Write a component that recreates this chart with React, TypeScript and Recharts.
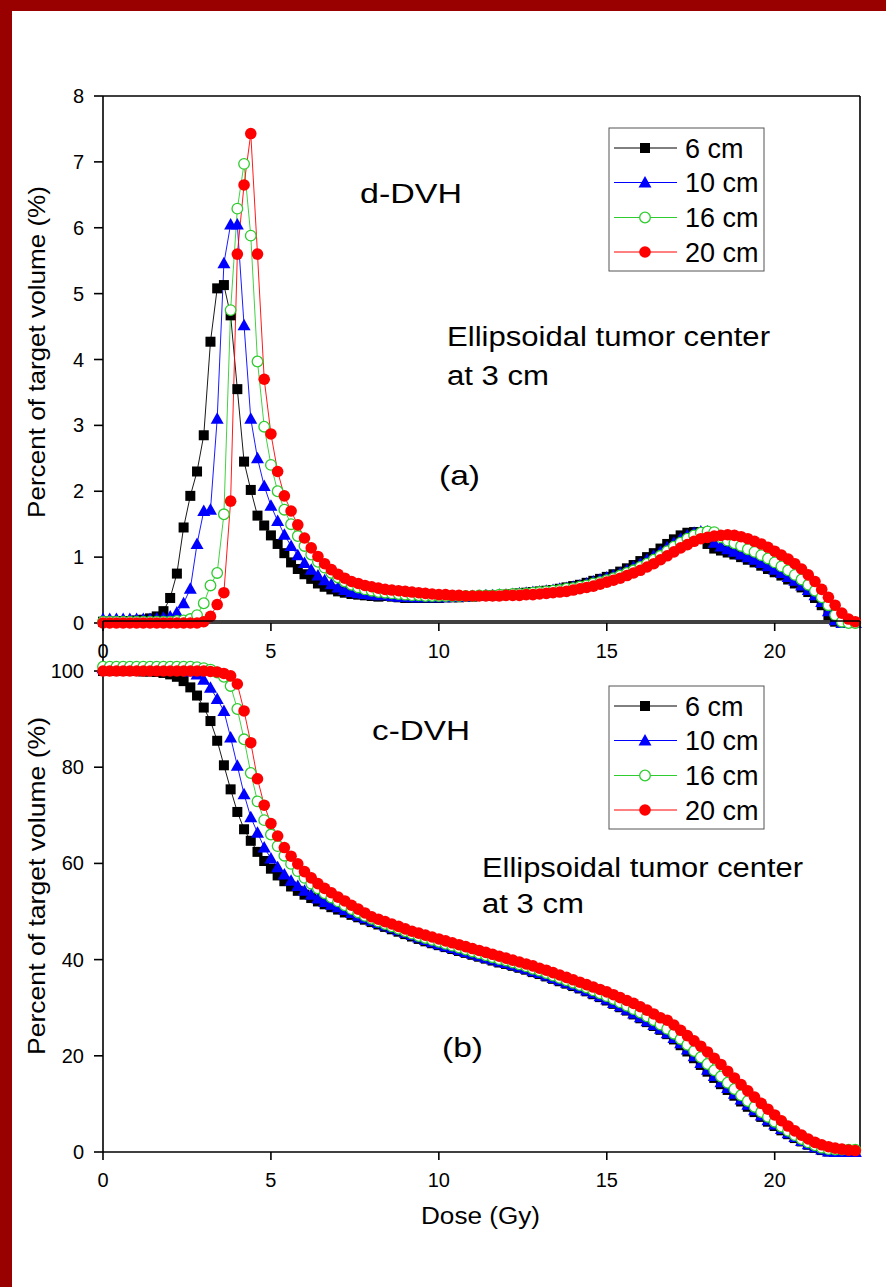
import React from "react";
import { LineChart, Line, XAxis, YAxis } from "recharts";

const RED_FRAME = "#990000";
const FONT = "'Liberation Sans', Arial, sans-serif";

// dose bins (Gy)
const DOSE = [
  0, 0.2, 0.4, 0.6, 0.8, 1, 1.2, 1.4, 1.6, 1.8,
  2, 2.2, 2.4, 2.6, 2.8, 3, 3.2, 3.4, 3.6, 3.8,
  4, 4.2, 4.4, 4.6, 4.8, 5, 5.2, 5.4, 5.6, 5.8,
  6, 6.2, 6.4, 6.6, 6.8, 7, 7.2, 7.4, 7.6, 7.8,
  8, 8.2, 8.4, 8.6, 8.8, 9, 9.2, 9.4, 9.6, 9.8,
  10, 10.2, 10.4, 10.6, 10.8, 11, 11.2, 11.4, 11.6, 11.8,
  12, 12.2, 12.4, 12.6, 12.8, 13, 13.2, 13.4, 13.6, 13.8,
  14, 14.2, 14.4, 14.6, 14.8, 15, 15.2, 15.4, 15.6, 15.8,
  16, 16.2, 16.4, 16.6, 16.8, 17, 17.2, 17.4, 17.6, 17.8,
  18, 18.2, 18.4, 18.6, 18.8, 19, 19.2, 19.4, 19.6, 19.8,
  20, 20.2, 20.4, 20.6, 20.8, 21, 21.2, 21.4, 21.6, 21.8,
  22, 22.2, 22.4,
];

// d-DVH (%)
const D_6CM = [
  0.02, 0.02, 0.02, 0.03, 0.03, 0.04, 0.05, 0.07, 0.1, 0.18,
  0.38, 0.75, 1.45, 1.93, 2.3, 2.85, 4.27, 5.08, 5.13, 4.67,
  3.55, 2.45, 2.02, 1.63, 1.48, 1.33, 1.2, 1.06, 0.92, 0.82,
  0.74, 0.67, 0.6, 0.55, 0.51, 0.48, 0.46, 0.44, 0.43, 0.42,
  0.41, 0.4, 0.41, 0.4, 0.39, 0.38, 0.38, 0.38, 0.38, 0.38,
  0.38, 0.39, 0.39, 0.39, 0.4, 0.4, 0.41, 0.41, 0.42, 0.42,
  0.43, 0.44, 0.45, 0.46, 0.47, 0.48, 0.49, 0.5, 0.52, 0.54,
  0.56, 0.58, 0.61, 0.64, 0.67, 0.7, 0.74, 0.78, 0.83, 0.88,
  0.94, 1.0, 1.06, 1.13, 1.2, 1.27, 1.33, 1.37, 1.38, 1.38,
  1.2, 1.13, 1.1, 1.07, 1.04, 1.0, 0.96, 0.92, 0.87, 0.82,
  0.77, 0.72, 0.66, 0.6, 0.54, 0.47, 0.38, 0.27, 0.12, 0.02,
  0, 0, 0,
];
const D_10CM = [
  0.06, 0.06, 0.06, 0.06, 0.06, 0.06, 0.06, 0.06, 0.07, 0.08,
  0.1, 0.16, 0.3, 0.52, 1.2, 1.7, 1.72, 3.1, 5.46, 6.05,
  6.05, 4.52, 3.1, 2.5, 2.08, 1.78, 1.55, 1.34, 1.17, 1.03,
  0.91, 0.81, 0.72, 0.65, 0.59, 0.54, 0.5, 0.47, 0.45, 0.44,
  0.43, 0.42, 0.43, 0.41, 0.4, 0.4, 0.39, 0.39, 0.39, 0.39,
  0.39, 0.39, 0.4, 0.4, 0.4, 0.41, 0.41, 0.42, 0.42, 0.43,
  0.43, 0.44, 0.45, 0.46, 0.47, 0.48, 0.49, 0.5, 0.52, 0.53,
  0.55, 0.57, 0.6, 0.63, 0.66, 0.69, 0.72, 0.76, 0.8, 0.85,
  0.9, 0.96, 1.02, 1.08, 1.15, 1.22, 1.28, 1.33, 1.37, 1.39,
  1.39, 1.22, 1.16, 1.12, 1.08, 1.04, 1.0, 0.96, 0.91, 0.86,
  0.81, 0.76, 0.7, 0.64, 0.57, 0.5, 0.42, 0.32, 0.18, 0.04,
  0, 0, 0,
];
const D_16CM = [
  0.02, 0.02, 0.02, 0.02, 0.02, 0.02, 0.02, 0.02, 0.02, 0.02,
  0.02, 0.03, 0.04, 0.06, 0.12, 0.3, 0.57, 0.76, 1.65, 4.75,
  6.29, 6.97, 5.88, 3.97, 2.98, 2.4, 2.0, 1.72, 1.5, 1.32,
  1.17, 1.04, 0.93, 0.84, 0.76, 0.69, 0.63, 0.58, 0.54, 0.51,
  0.49, 0.47, 0.46, 0.45, 0.44, 0.43, 0.42, 0.42, 0.41, 0.41,
  0.41, 0.41, 0.41, 0.41, 0.41, 0.41, 0.42, 0.42, 0.42, 0.43,
  0.43, 0.44, 0.44, 0.45, 0.46, 0.47, 0.48, 0.49, 0.5, 0.52,
  0.53, 0.55, 0.57, 0.6, 0.62, 0.65, 0.68, 0.72, 0.76, 0.8,
  0.85, 0.9, 0.96, 1.02, 1.09, 1.16, 1.22, 1.28, 1.33, 1.37,
  1.39, 1.38, 1.3, 1.25, 1.21, 1.17, 1.12, 1.08, 1.03, 0.98,
  0.92, 0.86, 0.8, 0.73, 0.66, 0.58, 0.49, 0.39, 0.27, 0.12,
  0.02, 0, 0,
];
const D_20CM = [
  0, 0, 0, 0, 0, 0, 0, 0, 0, 0,
  0, 0, 0, 0, 0, 0.02, 0.1, 0.28, 0.46, 1.85,
  5.6, 6.65, 7.43, 5.6, 3.7, 2.87, 2.3, 1.93, 1.7, 1.49,
  1.29, 1.14, 1.01, 0.9, 0.81, 0.74, 0.68, 0.63, 0.6, 0.57,
  0.55, 0.53, 0.51, 0.5, 0.49, 0.48, 0.47, 0.46, 0.45, 0.44,
  0.43, 0.43, 0.42, 0.42, 0.41, 0.41, 0.41, 0.41, 0.41, 0.41,
  0.42, 0.42, 0.42, 0.43, 0.43, 0.44, 0.45, 0.46, 0.47, 0.48,
  0.5, 0.52, 0.54, 0.56, 0.59, 0.62, 0.65, 0.68, 0.72, 0.76,
  0.8, 0.85, 0.9, 0.96, 1.02, 1.08, 1.14, 1.19, 1.24, 1.28,
  1.3, 1.32, 1.33, 1.34, 1.33, 1.31, 1.28, 1.24, 1.2, 1.15,
  1.09, 1.03, 0.97, 0.9, 0.82, 0.73, 0.63, 0.51, 0.39, 0.27,
  0.15, 0.06, 0.02,
];

// c-DVH (%)
const C_6CM = [
  100, 100, 100, 100, 100, 100, 99.9, 99.9, 99.8, 99.6,
  99.3, 98.8, 97.9, 96.6, 94.9, 92.4, 89.6, 85.5, 80.4, 75.4,
  70.7, 67.1, 64.7, 62.4, 60.5, 58.9, 57.5, 56.3, 55.2, 54.3,
  53.5, 52.8, 52.1, 51.5, 50.9, 50.4, 49.8, 49.3, 48.8, 48.3,
  47.8, 47.3, 46.8, 46.3, 45.8, 45.3, 44.8, 44.3, 43.8, 43.4,
  43.0, 42.6, 42.2, 41.8, 41.4, 41.0, 40.6, 40.2, 39.8, 39.4,
  39.1, 38.7, 38.3, 37.9, 37.4, 37.0, 36.5, 36.0, 35.5, 35.0,
  34.5, 34.0, 33.4, 32.8, 32.2, 31.5, 30.8, 30.1, 29.4, 28.6,
  27.8, 27.0, 26.2, 25.4, 24.5, 23.4, 22.2, 20.9, 19.5, 18.1,
  16.7, 15.4, 14.1, 12.9, 11.7, 10.5, 9.4, 8.3, 7.3, 6.3,
  5.4, 4.5, 3.7, 2.9, 2.2, 1.5, 0.9, 0.4, 0.1, 0,
  0, 0, 0,
];
const C_10CM = [
  100.6, 100.6, 100.6, 100.6, 100.6, 100.6, 100.6, 100.6, 100.6, 100.6,
  100.5, 100.4, 100.2, 99.9, 99.3, 98.2, 96.5, 94.2, 91.7, 86.2,
  80.3, 74.4, 69.6, 66.4, 63.3, 61.0, 59.2, 57.7, 56.4, 55.3,
  54.3, 53.5, 52.7, 52.0, 51.4, 50.9, 50.3, 49.7, 49.1, 48.6,
  48.1, 47.6, 47.1, 46.6, 46.1, 45.6, 45.1, 44.6, 44.1, 43.6,
  43.2, 42.8, 42.4, 42.0, 41.6, 41.2, 40.8, 40.4, 40.0, 39.6,
  39.3, 38.9, 38.5, 38.1, 37.6, 37.2, 36.7, 36.2, 35.7, 35.2,
  34.7, 34.2, 33.6, 33.0, 32.4, 31.7, 31.0, 30.3, 29.6, 28.8,
  28.0, 27.2, 26.4, 25.6, 24.7, 23.7, 22.6, 21.3, 19.9, 18.5,
  17.1, 15.8, 14.5, 13.3, 12.1, 10.9, 9.8, 8.7, 7.6, 6.6,
  5.7, 4.8, 3.9, 3.1, 2.3, 1.6, 1.0, 0.5, 0.1, 0,
  0, 0, 0,
];
const C_16CM = [
  100.9, 100.9, 100.9, 100.9, 100.9, 100.9, 100.9, 100.9, 100.9, 100.9,
  100.9, 100.9, 100.9, 100.9, 100.8, 100.6, 100.3, 99.7, 98.8, 96.9,
  92.1, 85.8, 78.8, 72.9, 69.0, 66.0, 63.6, 61.6, 59.9, 58.4,
  57.0, 55.8, 54.8, 53.8, 52.9, 52.1, 51.3, 50.5, 49.8, 49.1,
  48.5, 47.9, 47.4, 46.9, 46.4, 45.9, 45.4, 44.9, 44.5, 44.1,
  43.7, 43.3, 42.9, 42.5, 42.1, 41.7, 41.3, 40.9, 40.5, 40.1,
  39.8, 39.4, 39.0, 38.6, 38.1, 37.7, 37.2, 36.7, 36.2, 35.7,
  35.2, 34.7, 34.2, 33.6, 33.0, 32.4, 31.8, 31.1, 30.4, 29.7,
  29.0, 28.2, 27.4, 26.5, 25.6, 24.6, 23.5, 22.3, 21.0, 19.7,
  18.3, 17.0, 15.7, 14.4, 13.1, 11.8, 10.6, 9.4, 8.3, 7.3,
  6.3, 5.3, 4.4, 3.5, 2.7, 2.0, 1.4, 0.9, 0.6, 0.5,
  0.5, 0.5, 0.5,
];
const C_20CM = [
  100, 100, 100, 100, 100, 100, 100, 100, 100, 100,
  100, 100, 100, 100, 100, 100, 99.9, 99.8, 99.5, 99.0,
  97.3, 91.7, 85.1, 77.6, 72.1, 68.3, 65.7, 63.3, 61.5, 59.9,
  58.3, 57.0, 55.8, 54.8, 53.9, 53.0, 52.2, 51.3, 50.5, 49.7,
  48.9, 48.4, 47.9, 47.4, 46.9, 46.4, 45.9, 45.5, 45.1, 44.7,
  44.3, 43.9, 43.5, 43.1, 42.7, 42.3, 41.9, 41.5, 41.1, 40.7,
  40.3, 39.9, 39.5, 39.1, 38.7, 38.2, 37.8, 37.3, 36.8, 36.3,
  35.8, 35.3, 34.8, 34.3, 33.8, 33.3, 32.7, 32.1, 31.5, 30.9,
  30.2, 29.5, 28.7, 27.9, 27.4, 26.4, 25.3, 24.2, 23.1, 22.0,
  20.8, 19.5, 18.2, 16.8, 15.4, 14.0, 12.7, 11.4, 10.1, 8.9,
  7.7, 6.5, 5.4, 4.4, 3.5, 2.7, 2.0, 1.5, 1.1, 0.8,
  0.6, 0.4, 0.3,
];

const SERIES_NAMES = ["6 cm", "10 cm", "16 cm", "20 cm"];

const X_TICKS = [0, 5, 10, 15, 20];
const X_MINOR = [2.5, 7.5, 12.5, 17.5];
const D_TICKS = [0, 1, 2, 3, 4, 5, 6, 7, 8];
const D_MINOR = [0.5, 1.5, 2.5, 3.5, 4.5, 5.5, 6.5, 7.5];
const C_TICKS = [0, 20, 40, 60, 80, 100];
const C_MINOR = [10, 30, 50, 70, 90, 110];

const dData = DOSE.map((dose, i) => ({ dose, s6: D_6CM[i], s10: D_10CM[i], s16: D_16CM[i], s20: D_20CM[i] }));
const cData = DOSE.map((dose, i) => ({ dose, s6: C_6CM[i], s10: C_10CM[i], s16: C_16CM[i], s20: C_20CM[i] }));

const BLUE = "#0000ff";
const GREEN = "#2ecc2e";
const REDC = "#ff0000";

function Marker({ kind, cx, cy }: { kind: string; cx: number; cy: number }) {
  if (kind === "square") return <rect x={cx - 5} y={cy - 5} width={10} height={10} fill="#000" />;
  if (kind === "triangle")
    return <polygon points={`${cx},${cy - 6.5} ${cx - 6.5},${cy + 5} ${cx + 6.5},${cy + 5}`} fill={BLUE} />;
  if (kind === "open") return <circle cx={cx} cy={cy} r={5.3} fill="#fff" stroke={GREEN} strokeWidth={1.3} />;
  return <circle cx={cx} cy={cy} r={5.8} fill={REDC} />;
}

const SERIES = [
  { key: "s6", color: "#000", kind: "square" },
  { key: "s10", color: BLUE, kind: "triangle" },
  { key: "s16", color: GREEN, kind: "open" },
  { key: "s20", color: REDC, kind: "circle" },
];

const makeDot = (kind: string) => (p: any) => {
  const k = `${kind}-${p.index}`;
  if (p.cx == null || p.cy == null) return <g key={k} />;
  return (
    <g key={k}>
      <Marker kind={kind} cx={p.cx} cy={p.cy} />
    </g>
  );
};

const axisStroke = { stroke: "#000", strokeWidth: 1.6 };
const X_DOMAIN: [number, number] = [0, 22.54];

const XTick = (p: any) => (
  <text x={p.x} y={p.y} dy={14.5} textAnchor="middle" fontSize={20} fontFamily={FONT} fill="#000">
    {p.payload.value}
  </text>
);
const YTick = (p: any) => (
  <text x={p.x} y={p.y} dy={7} textAnchor="end" fontSize={20} fontFamily={FONT} fill="#000">
    {p.payload.value}
  </text>
);

// plot box: x 103..858 ; the axes each take 1px of room on their side
function Panel({
  data,
  height,
  plotTop,
  plotBottom,
  yDomain,
  yTicks,
  yMinor,
}: {
  data: any[];
  height: number;
  plotTop: number;
  plotBottom: number;
  yDomain: [number, number];
  yTicks: number[];
  yMinor: number[];
}) {
  return (
    <LineChart
      width={886}
      height={height}
      data={data}
      margin={{ top: plotTop - 2, right: 886 - 858 - 2, left: 103 - 2, bottom: height - plotBottom - 2 }}
    >
      <XAxis xAxisId="x" type="number" dataKey="dose" domain={X_DOMAIN} ticks={X_TICKS} interval={0} height={1}
        tickSize={8} tickMargin={12} tick={XTick} axisLine={axisStroke} tickLine={axisStroke} />
      <XAxis xAxisId="xm" type="number" dataKey="dose" domain={X_DOMAIN} allowDataOverflow ticks={X_MINOR} interval={0}
        height={1} tickSize={5} tick={false} axisLine={false} tickLine={axisStroke} />
      <XAxis xAxisId="xt" orientation="top" mirror type="number" dataKey="dose" domain={X_DOMAIN} allowDataOverflow
        ticks={X_TICKS} interval={0} height={1} tickSize={9} tick={false} axisLine={axisStroke} tickLine={axisStroke} />
      <XAxis xAxisId="xtm" orientation="top" mirror type="number" dataKey="dose" domain={X_DOMAIN} allowDataOverflow
        ticks={X_MINOR} interval={0} height={1} tickSize={5} tick={false} axisLine={false} tickLine={axisStroke} />
      <YAxis yAxisId="y" type="number" domain={yDomain} ticks={yTicks} interval={0} width={1}
        tickSize={9} tickMargin={10} tick={YTick} axisLine={axisStroke} tickLine={axisStroke} />
      <YAxis yAxisId="ym" type="number" domain={yDomain} allowDataOverflow ticks={yMinor} interval={0} width={1}
        tickSize={5} tick={false} axisLine={false} tickLine={axisStroke} />
      <YAxis yAxisId="yr" orientation="right" mirror type="number" domain={yDomain} allowDataOverflow ticks={yTicks}
        interval={0} width={1} tickSize={9} tick={false} axisLine={axisStroke} tickLine={axisStroke} />
      <YAxis yAxisId="yrm" orientation="right" mirror type="number" domain={yDomain} allowDataOverflow ticks={yMinor}
        interval={0} width={1} tickSize={5} tick={false} axisLine={false} tickLine={axisStroke} />
      {SERIES.map((s) => (
        <Line
          key={s.key}
          xAxisId="x"
          yAxisId="y"
          type="linear"
          dataKey={s.key}
          stroke={s.color}
          strokeWidth={0.9}
          dot={makeDot(s.kind)}
          activeDot={false}
          isAnimationActive={false}
        />
      ))}
    </LineChart>
  );
}

function LegendBox({ x, y }: { x: number; y: number }) {
  const rows = [20, 54.5, 89.5, 124];
  return (
    <g transform={`translate(${x},${y})`}>
      <rect x={0} y={0} width={155} height={143} fill="#fff" stroke="#555" strokeWidth={1} />
      {SERIES.map((s, i) => (
        <g key={s.key}>
          <line x1={5} x2={68} y1={rows[i]} y2={rows[i]} stroke={s.color} strokeWidth={1} />
          <Marker kind={s.kind} cx={36} cy={rows[i]} />
          <text x={76} y={rows[i] + 9.5} fontSize={27} fontFamily={FONT} fill="#000">
            {SERIES_NAMES[i]}
          </text>
        </g>
      ))}
    </g>
  );
}

function Txt({ x, y, w, size, children }: { x: number; y: number; w: number; size: number; children: string }) {
  return (
    <text x={x} y={y} fontSize={size} fontFamily={FONT} fill="#000" textLength={w} lengthAdjust="spacingAndGlyphs">
      {children}
    </text>
  );
}

export default function App() {
  return (
    <div style={{ position: "absolute", left: 0, top: 0, width: 886, height: 1287, background: "#fff", overflow: "hidden" }}>
      <div style={{ position: "absolute", left: 0, top: 0 }}>
        <Panel data={dData} height={660} plotTop={98} plotBottom={623} yDomain={[0, 8]} yTicks={D_TICKS} yMinor={D_MINOR} />
      </div>
      <div style={{ position: "absolute", left: 0, top: 600 }}>
        <Panel data={cData} height={687} plotTop={23} plotBottom={552} yDomain={[0, 110.4]} yTicks={C_TICKS} yMinor={C_MINOR} />
      </div>
      <svg width={886} height={1287} style={{ position: "absolute", left: 0, top: 0, pointerEvents: "none" }}>
        <rect x={0} y={0} width={886} height={11} fill={RED_FRAME} />
        <rect x={0} y={0} width={12} height={1287} fill={RED_FRAME} />

        <Txt x={360} y={203} w={102} size={28}>d-DVH</Txt>
        <Txt x={447} y={346} w={323} size={27}>Ellipsoidal tumor center</Txt>
        <Txt x={447} y={385} w={102} size={27}>at 3 cm</Txt>
        <Txt x={439} y={485} w={41} size={28}>(a)</Txt>

        <Txt x={372} y={740} w={98} size={28}>c-DVH</Txt>
        <Txt x={482} y={877} w={321} size={27}>Ellipsoidal tumor center</Txt>
        <Txt x={482} y={913} w={102} size={27}>at 3 cm</Txt>
        <Txt x={442} y={1057} w={41} size={28}>(b)</Txt>

        <text x={45} y={352} transform="rotate(-90 45 352)" textAnchor="middle" fontSize={24} fontFamily={FONT}
          textLength={332} lengthAdjust="spacingAndGlyphs">Percent of target volume (%)</text>
        <text x={45} y={886} transform="rotate(-90 45 886)" textAnchor="middle" fontSize={24} fontFamily={FONT}
          textLength={338} lengthAdjust="spacingAndGlyphs">Percent of target volume (%)</text>
        <text x={421} y={1224} fontSize={23} fontFamily={FONT} textLength={119} lengthAdjust="spacingAndGlyphs">Dose (Gy)</text>

        <LegendBox x={609} y={128} />
        <LegendBox x={609} y={686} />
      </svg>
    </div>
  );
}
